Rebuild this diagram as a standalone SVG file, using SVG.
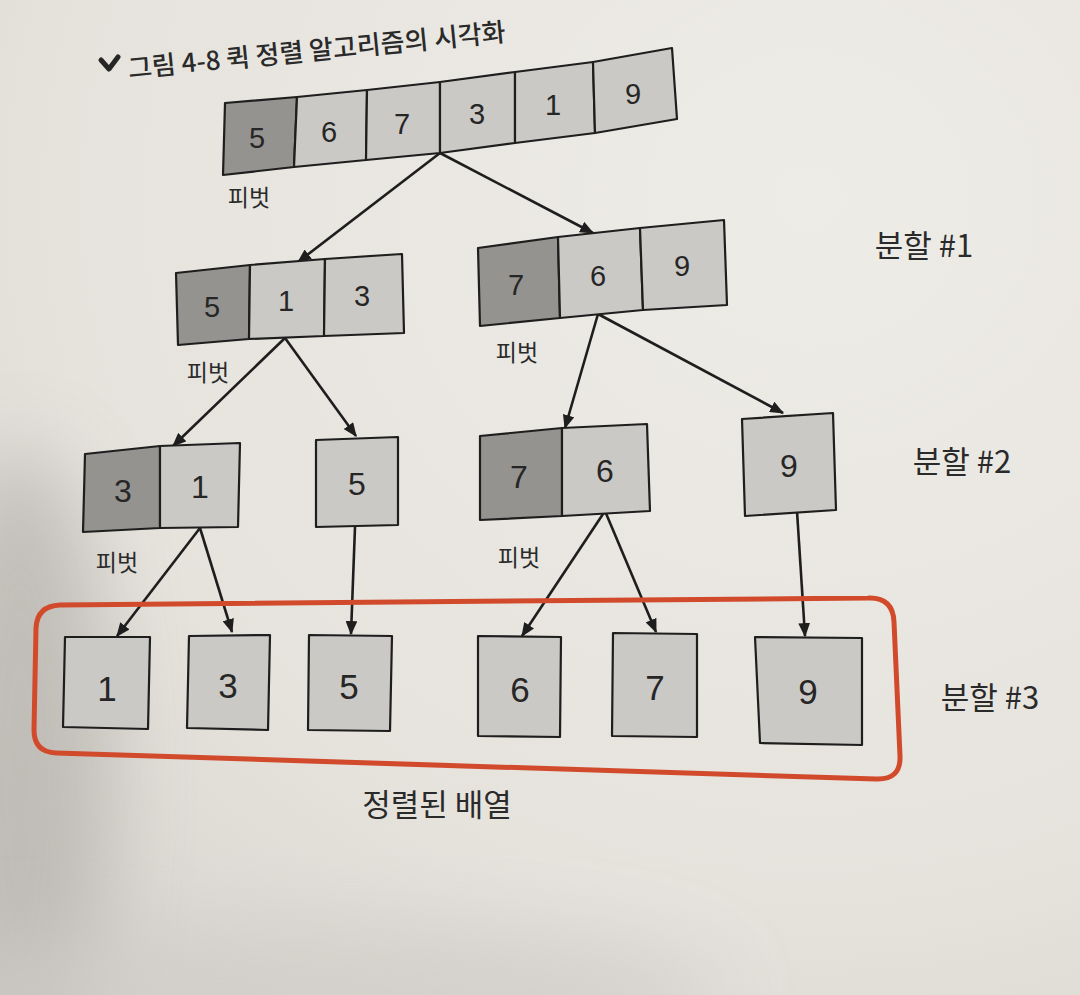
<svg xmlns="http://www.w3.org/2000/svg" width="1080" height="995" viewBox="0 0 1080 995">
<defs>
<style>
.dk{fill:#959390;stroke:#1e1e1e;stroke-width:2.2;stroke-linejoin:round}
.lt{fill:#cbc9c5;stroke:#1e1e1e;stroke-width:2.2;stroke-linejoin:round}
.num{font-family:"Liberation Sans",Arial,sans-serif;fill:#262626;text-anchor:middle}
.n1{font-size:29px}
.n2{font-size:32px}
.n3{font-size:35px}
.kr{font-family:"Noto Sans CJK KR","Noto Sans",sans-serif;fill:#2a2a2a;text-anchor:middle}
.pv{font-size:23px}
.part{font-size:31px}
.edge{stroke:#1e1e1e;stroke-width:2.6;fill:none;marker-end:url(#ah)}
</style>
<marker id="ah" viewBox="0 0 12 10" refX="11" refY="5" markerWidth="5.5" markerHeight="4.5" orient="auto" markerUnits="strokeWidth">
<path d="M0,0 L12,5 L0,10 Z" fill="#1e1e1e"/>
</marker>
<radialGradient id="bg" cx="0.75" cy="0.2" r="1">
<stop offset="0" stop-color="#eeece7"/>
<stop offset="0.7" stop-color="#e6e3dd"/>
<stop offset="1" stop-color="#d9d6d0"/>
</radialGradient>
<filter id="blur" x="-50%" y="-50%" width="200%" height="200%"><feGaussianBlur stdDeviation="40"/></filter>
</defs>
<rect width="1080" height="995" fill="url(#bg)"/>
<ellipse cx="20" cy="780" rx="90" ry="330" fill="#b9b6b0" filter="url(#blur)" opacity="0.8"/>
<ellipse cx="300" cy="995" rx="420" ry="70" fill="#cfccc6" filter="url(#blur)" opacity="0.7"/>

<g id="title">
<path d="M101,60 L109,69 L118,57" fill="none" stroke="#262626" stroke-width="5" stroke-linecap="round" stroke-linejoin="round"/>
<text x="129" y="78" transform="rotate(-5.6 129 78)" font-family="'Noto Sans CJK KR','Noto Sans',sans-serif" font-size="26" font-weight="500" fill="#2a2a2a">그림 4-8 퀵 정렬 알고리즘의 시각화</text>
</g>

<g id="connectors">
<path class="edge" d="M440,153 L298,262"/>
<path class="edge" d="M440,153 L593,233"/>
<path class="edge" d="M285,338 L173,446"/>
<path class="edge" d="M285,338 L356,436"/>
<path class="edge" d="M598,314 L565,428"/>
<path class="edge" d="M598,314 L783,413"/>
<path class="edge" d="M200,528 L117,636"/>
<path class="edge" d="M200,528 L232,632"/>
<path class="edge" d="M355,527 L351,634"/>
<path class="edge" d="M605,511 L522,636"/>
<path class="edge" d="M605,511 L656,632"/>
<path class="edge" d="M797,511 L805,636"/>
</g>

<g id="array-root">
<polygon class="dk" points="225,103 297,97 294,167 223,175"/>
<polygon class="lt" points="297,97 367,90 366,160 294,167"/>
<polygon class="lt" points="367,90 440,82 440,153 366,160"/>
<polygon class="lt" points="440,82 515,72 515,143 440,153"/>
<polygon class="lt" points="515,72 593,62 595,133 515,143"/>
<polygon class="lt" points="593,62 672,48 677,119 595,133"/>
<text class="num n1" x="257" y="148">5</text>
<text class="num n1" x="329" y="142">6</text>
<text class="num n1" x="402" y="134">7</text>
<text class="num n1" x="477" y="124">3</text>
<text class="num n1" x="553" y="115">1</text>
<text class="num n1" x="633" y="104">9</text>
<text class="kr pv" x="249" y="206">피벗</text>
</g>

<g id="array-513">
<polygon class="dk" points="176,273 250,265 249,339 178,345"/>
<polygon class="lt" points="250,265 325,259 324,336 249,339"/>
<polygon class="lt" points="325,259 402,254 404,333 324,336"/>
<text class="num n1" x="212" y="317">5</text>
<text class="num n1" x="286" y="311">1</text>
<text class="num n1" x="362" y="306">3</text>
<text class="kr pv" x="208" y="381">피벗</text>
</g>

<g id="array-769">
<polygon class="dk" points="478,248 558,237 560,318 480,326"/>
<polygon class="lt" points="558,237 640,228 643,310 560,318"/>
<polygon class="lt" points="640,228 724,220 727,305 643,310"/>
<text class="num n1" x="516" y="295">7</text>
<text class="num n1" x="598" y="286">6</text>
<text class="num n1" x="682" y="276">9</text>
<text class="kr pv" x="517" y="361">피벗</text>
</g>

<text class="kr part" x="924" y="257">분할 #1</text>

<g id="array-31">
<polygon class="dk" points="85,454 160,446 160,528 83,532"/>
<polygon class="lt" points="160,446 240,443 238,527 160,528"/>
<text class="num n2" x="123" y="502">3</text>
<text class="num n2" x="200" y="498">1</text>
<text class="kr pv" x="117" y="571">피벗</text>
</g>

<g id="array-5">
<polygon class="lt" points="316,440 398,437 398,525 316,527"/>
<text class="num n2" x="357" y="495">5</text>
</g>

<g id="array-76">
<polygon class="dk" points="480,436 562,428 562,516 480,520"/>
<polygon class="lt" points="562,428 647,424 650,511 562,516"/>
<text class="num n2" x="519" y="488">7</text>
<text class="num n2" x="605" y="482">6</text>
<text class="kr pv" x="519" y="566">피벗</text>
</g>

<g id="array-9">
<polygon class="lt" points="742,419 833,413 836,510 745,516"/>
<text class="num n2" x="789" y="477">9</text>
</g>

<text class="kr part" x="962" y="473" font-size="33">분할 #2</text>

<g id="sorted-frame">
<path d="M60,605 L868,598 Q893,597 894,622 L900,756 Q901,780 876,779 L56,753 Q34,752 34,730 L36,628 Q37,606 60,605 Z" fill="none" stroke="#d24a2c" stroke-width="5"/>
</g>

<g id="sorted-1">
<polygon class="lt" points="65,637 150,637 148,729 63,727"/>
<text class="num n3" x="107" y="701">1</text>
</g>
<g id="sorted-3">
<polygon class="lt" points="189,636 270,635 268,730 187,728"/>
<text class="num n3" x="228" y="698">3</text>
</g>
<g id="sorted-5">
<polygon class="lt" points="309,635 392,636 390,731 308,730"/>
<text class="num n3" x="349" y="699">5</text>
</g>
<g id="sorted-6">
<polygon class="lt" points="478,636 561,637 560,737 478,736"/>
<text class="num n3" x="520" y="702">6</text>
</g>
<g id="sorted-7">
<polygon class="lt" points="613,633 697,634 697,737 612,736"/>
<text class="num n3" x="655" y="700">7</text>
</g>
<g id="sorted-9">
<polygon class="lt" points="755,637 862,638 862,745 760,743"/>
<text class="num n3" x="808" y="704" font-size="37">9</text>
</g>

<text class="kr part" x="990" y="709" font-size="35">분할 #3</text>
<text class="kr part" x="437" y="816">정렬된 배열</text>
</svg>
